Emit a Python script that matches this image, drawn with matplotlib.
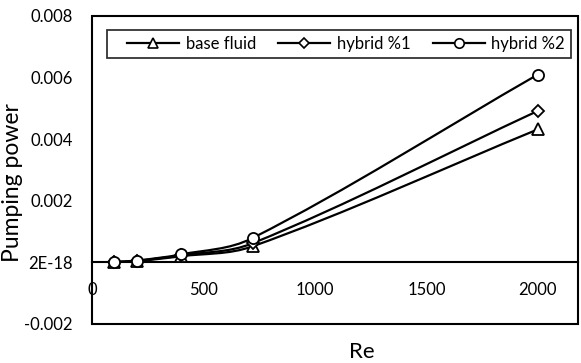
import matplotlib
matplotlib.use('Agg')
import matplotlib.pyplot as plt
from matplotlib.path import Path
from matplotlib.patches import PathPatch
from matplotlib.lines import Line2D
from matplotlib.legend_handler import HandlerLine2D

plt.rcParams['font.family'] = ['Lato', 'DejaVu Sans']

re_vals = [100, 200, 400, 720, 2000]
base_fluid = [0.00001, 0.00004, 0.00020, 0.00052, 0.00432]
hybrid_1 = [0.00001, 0.00005, 0.00023, 0.00062, 0.00492]
hybrid_2 = [0.00002, 0.00006, 0.00026, 0.00079, 0.00610]

series = [
    ('base fluid', base_fluid, '^', 8),
    ('hybrid %1', hybrid_1, 'D', 6),
    ('hybrid %2', hybrid_2, 'o', 8),
]

y_ticks = [-0.002, 0, 0.002, 0.004, 0.006, 0.008]
y_tick_labels = ['-0.002', '2E-18', '0.002', '0.004', '0.006', '0.008']
x_ticks = [0, 500, 1000, 1500, 2000]


def smooth_path(xs, ys):
    # cubic hermite through the points, slopes from neighbouring points
    n = len(xs)
    slopes = []
    for i in range(n):
        a = max(i - 1, 0)
        b = min(i + 1, n - 1)
        slopes.append((ys[b] - ys[a]) / (xs[b] - xs[a]))
    verts = [(xs[0], ys[0])]
    codes = [Path.MOVETO]
    for i in range(n - 1):
        dx = (xs[i + 1] - xs[i]) / 3
        verts += [(xs[i] + dx, ys[i] + slopes[i] * dx),
                  (xs[i + 1] - dx, ys[i + 1] - slopes[i + 1] * dx),
                  (xs[i + 1], ys[i + 1])]
        codes += [Path.CURVE4] * 3
    return Path(verts, codes)


fig = plt.figure(figsize=(5.81, 3.63), dpi=100)
ax = fig.add_axes([92 / 581, 39 / 363, 486 / 581, 308 / 363])

handles = []
for name, vals, mk, ms in series:
    ax.add_patch(PathPatch(smooth_path(re_vals, vals), facecolor='none',
                           edgecolor='black', lw=1.6, zorder=2))
    ax.plot(re_vals, vals, linestyle='none', marker=mk, ms=ms,
            mfc='white', mec='black', mew=1.3, zorder=3)
    # legend markers a touch smaller than the plotted ones
    handles.append(Line2D([], [], color='black', lw=1.6, marker=mk, ms=ms * 0.85,
                          mfc='white', mec='black', mew=1.2, label=name))

ax.set_xlim(0, 2180)
ax.set_ylim(-0.002, 0.008)

ax.set_yticks(y_ticks)
ax.set_yticklabels(y_tick_labels)
ax.set_xticks(x_ticks)
ax.set_xticklabels([str(v) for v in x_ticks])
ax.tick_params(axis='both', length=0, labelsize=12)
ax.tick_params(axis='y', pad=14)
ax.tick_params(axis='x', pad=14)

# x axis crosses at zero, plot area keeps its own border
for side in ['left', 'right', 'top']:
    ax.spines[side].set_visible(False)
ax.spines['bottom'].set_position(('data', 0))
ax.spines['bottom'].set_linewidth(1.5)
ax.patch.set_edgecolor('black')
ax.patch.set_linewidth(1.5)

ax.set_ylabel('Pumping power', fontsize=16.5)
ax.yaxis.set_label_coords(-0.142, 0.46)
ax.set_xlabel('Re', fontsize=16)
ax.xaxis.set_label_coords(0.556, -0.058)

leg = ax.legend(handles=handles, loc='upper left', bbox_to_anchor=(0.03, 0.955),
                ncol=3, fontsize=12, frameon=True, fancybox=False,
                handlelength=4.0, columnspacing=0.45, handletextpad=0.4,
                borderpad=0.35, borderaxespad=0,
                handler_map={Line2D: HandlerLine2D(xpad=0.9)})
leg.get_frame().set_edgecolor('black')
leg.get_frame().set_linewidth(1.3)

fig.savefig('out.png', dpi=100)
